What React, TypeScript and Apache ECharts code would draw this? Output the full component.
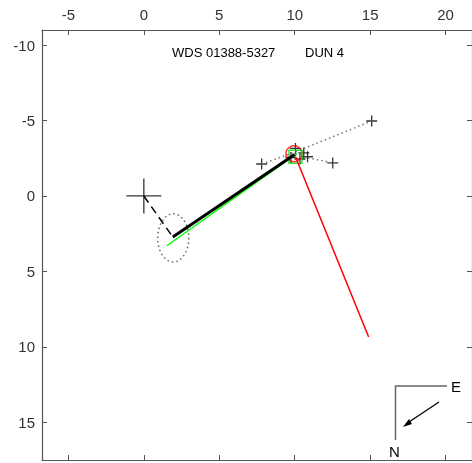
import React, { useEffect, useRef } from "react";
import * as echarts from "echarts";

// axis limits and ticks
const xLimits = [-6.75, 21.75];
const yLimits = [-11, 17.5];
const tickStep = 5;

// primary star and orbit pieces
const primary = [[0, 0]];
const dashedSegment = [[0, 0], [1.92, 2.72]];
const blackSegment = [[1.92, 2.72], [10.0, -2.75]];
const greenSegment = [[1.52, 3.3], [10.15, -2.8]];
const redSegment = [[10.05, -2.6], [14.9, 9.35]];
const redCircle = [[9.95, -2.8]];
const greenSquare = [[10.05, -2.6]];

// observed measurements (small crosses) and their dotted links
const measures = [
  [7.81, -2.12],
  [15.1, -4.97],
  [12.52, -2.19],
  [10.05, -3.15],
  [10.6, -2.85],
  [10.85, -2.6],
  [9.75, -2.55],
  [10.35, -2.45],
];
const dottedA = [[7.81, -2.12], [10.0, -2.9], [15.1, -4.97]];
const dottedB = [[10.0, -2.7], [12.52, -2.19]];

// error ellipse parameters
const ellipseCenter = [1.95, 2.78];
const ellipseRadii = [1.03, 1.6];

const plusPath = "path://M-1,0L1,0M0,-1L0,1";

export default function App() {
  const ref = useRef<HTMLDivElement>(null);
  useEffect(() => {
    document.body.style.margin = "0";
    const chart = echarts.init(ref.current!, null, { renderer: "svg" });
    const ellipsePts: number[][] = [];
    for (let i = 0; i <= 72; i++) {
      const t = (i / 72) * Math.PI * 2;
      ellipsePts.push([
        ellipseCenter[0] + ellipseRadii[0] * Math.cos(t),
        ellipseCenter[1] + ellipseRadii[1] * Math.sin(t),
      ]);
    }
    const fmt = (v: number) =>
      Math.abs(v / tickStep - Math.round(v / tickStep)) < 1e-6 ? String(Math.round(v)) : "";
    const font = "Liberation Sans, Arial, sans-serif";
    const axisCommon = {
      type: "value" as const,
      axisLine: { show: true, onZero: false, lineStyle: { color: "#555", width: 1.2 } },
      axisTick: { show: true, inside: true, length: 5, lineStyle: { color: "#555" } },
      splitLine: { show: false },
      axisLabel: {
        color: "#333",
        fontSize: 15,
        fontFamily: font,
        formatter: fmt,
        showMinLabel: false,
        showMaxLabel: false,
      },
    };
    chart.setOption({
      animation: false,
      grid: { left: 42, top: 30, right: 0, bottom: 3 },
      xAxis: [
        { ...axisCommon, min: xLimits[0], max: xLimits[1], position: "top", axisLabel: { ...axisCommon.axisLabel, margin: 8 } },
        { ...axisCommon, min: xLimits[0], max: xLimits[1], position: "bottom", axisLabel: { show: false } },
      ],
      yAxis: [
        { ...axisCommon, min: yLimits[0], max: yLimits[1], inverse: true, position: "left", axisLabel: { ...axisCommon.axisLabel, margin: 7 } },
        { ...axisCommon, min: yLimits[0], max: yLimits[1], inverse: true, position: "right", axisLabel: { show: false } },
      ],
      series: [
        {
          type: "line", data: dashedSegment, symbol: "none",
          lineStyle: { color: "#000", width: 1.5, type: [8, 5] },
        },
        {
          type: "line", data: ellipsePts, symbol: "none",
          lineStyle: { color: "#666", width: 1.5, type: [1.5, 3] },
        },
        {
          type: "line", data: dottedA, symbol: "none",
          lineStyle: { color: "#777", width: 1.5, type: [1.5, 3] },
        },
        {
          type: "line", data: dottedB, symbol: "none",
          lineStyle: { color: "#777", width: 1.5, type: [1.5, 3] },
        },
        {
          type: "line", data: greenSegment, symbol: "none",
          lineStyle: { color: "#00ff00", width: 1.5 },
        },
        {
          type: "line", data: blackSegment, symbol: "none",
          lineStyle: { color: "#000", width: 3 },
        },
        {
          type: "line", data: redSegment, symbol: "none",
          lineStyle: { color: "#ff0000", width: 1.5 },
        },
        {
          type: "scatter", data: primary, symbol: plusPath, symbolSize: 35,
          itemStyle: { color: "transparent", borderColor: "#000", borderWidth: 1.3 },
        },
        {
          type: "scatter", data: measures, symbol: plusPath, symbolSize: 11,
          itemStyle: { color: "transparent", borderColor: "#000", borderWidth: 1.3 },
        },
        {
          type: "scatter", data: redCircle, symbol: "circle", symbolSize: 16,
          itemStyle: { color: "transparent", borderColor: "#ff0000", borderWidth: 1.5 },
        },
        {
          type: "scatter", data: greenSquare, symbol: "rect", symbolSize: 13,
          itemStyle: { color: "transparent", borderColor: "#00dd00", borderWidth: 1.5 },
        },
      ],
      graphic: [
        { type: "text", left: 172, top: 46, style: { text: "WDS 01388-5327", fill: "#000", font: `13px ${font}` } },
        { type: "text", left: 305, top: 46, style: { text: "DUN 4", fill: "#000", font: `13px ${font}` } },
        { type: "polyline", shape: { points: [[447, 386], [395.5, 386], [395.5, 440]] }, style: { stroke: "#666", lineWidth: 1.5, fill: "none" } },
        { type: "text", left: 451, top: 379, style: { text: "E", font: `15px ${font}`, fill: "#000" } },
        { type: "text", left: 389, top: 444, style: { text: "N", font: `15px ${font}`, fill: "#000" } },
        { type: "line", shape: { x1: 439, y1: 402, x2: 406, y2: 424 }, style: { stroke: "#000", lineWidth: 1.3 } },
        { type: "polygon", shape: { points: [[403, 427], [409, 419], [412, 424]] }, style: { fill: "#000" } },
      ],
    });
    return () => chart.dispose();
  }, []);
  return <div ref={ref} style={{ position: "fixed", left: 0, top: 0, width: 472, height: 463 }} />;
}
